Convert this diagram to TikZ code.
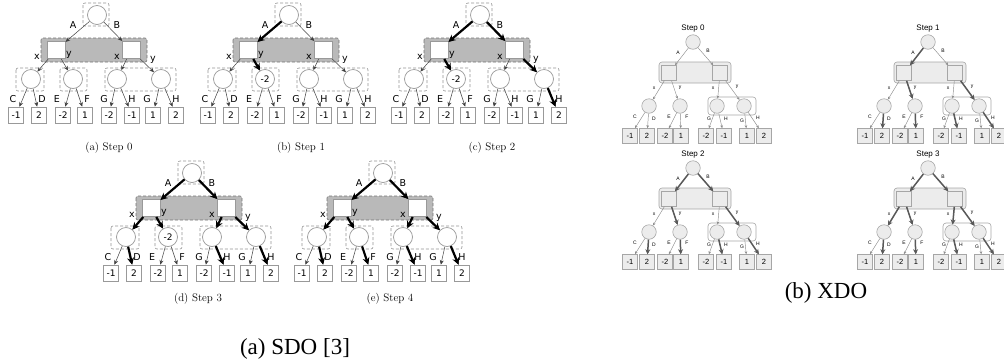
\documentclass[tikz,border=0pt]{standalone}
\usepackage{fontspec}
\usepackage{tikz}
\usetikzlibrary{arrows.meta}
\newfontfamily\dejavu{DejaVu Sans}
\newfontfamily\arialfont{Liberation Sans}
\newfontfamily\timesfont{Liberation Serif}

\tikzstyle{sdolab}=[inner sep=0pt,font=\dejavu\fontsize{9.5}{10}\selectfont]
\tikzstyle{sdobox}=[draw=gray!85,dashed,dash pattern=on 3pt off 2pt,rounded corners=2pt,line width=0.6pt]
\tikzstyle{sdoinfo}=[sdobox,fill=gray!55,draw=gray!90!black]
\tikzstyle{sdochance}=[draw=gray!80,circle,minimum size=19pt,inner sep=0pt,fill=white,line width=0.7pt,font=\dejavu\fontsize{9}{10}\selectfont]
\tikzstyle{sdoset}=[draw=gray!80,fill=white,minimum width=18pt,minimum height=17pt,inner sep=0pt,line width=1pt]
\tikzstyle{sdoleaf}=[draw=gray!80,fill=white,minimum width=15pt,minimum height=16pt,inner sep=0pt,line width=0.8pt,font=\dejavu\fontsize{9}{10}\selectfont]
\tikzstyle{sdothin}=[line width=0.5pt,draw=black!75,-{Stealth[length=4.5pt,width=4pt]}]
\tikzstyle{sdothick}=[line width=2.2pt,black,-{Stealth[length=7pt,width=7pt]}]
\tikzstyle{caption}=[inner sep=0pt,font=\fontsize{11}{13}\selectfont]

\tikzstyle{xdolab}=[inner sep=0pt,font=\arialfont\fontsize{5}{6}\selectfont]
\tikzstyle{xdotitle}=[inner sep=0pt,font=\arialfont\fontsize{8}{9}\selectfont]
\tikzstyle{xdoinfo}=[draw=gray!70,fill=gray!15,rounded corners=3pt,line width=0.6pt]
\tikzstyle{xdogroup}=[draw=gray!70,rounded corners=3pt,line width=0.6pt]
\tikzstyle{xdochance}=[draw=gray!70,circle,fill=gray!15,minimum size=14.5pt,inner sep=0pt,line width=0.6pt]
\tikzstyle{xdoset}=[draw=gray!70,fill=gray!15,minimum size=15pt,inner sep=0pt,line width=0.6pt]
\tikzstyle{xdoleaf}=[draw=gray!70,fill=gray!15,minimum size=15pt,inner sep=0pt,line width=0.6pt,font=\arialfont\fontsize{7.5}{8}\selectfont]
\tikzstyle{xdothin}=[line width=0.45pt,draw=gray!90,-{Stealth[length=3pt,width=2.6pt]}]
\tikzstyle{xdothick}=[line width=1.5pt,gray!70!black,-{Stealth[length=5pt,width=5pt]}]
\tikzstyle{panel}=[inner sep=0pt,font=\timesfont\fontsize{23}{26}\selectfont]

% one SDO tree: prefix, root x, root y, value in 2nd chance node, thick edges
\newcommand{\sdotree}[5]{%
  \begin{scope}[shift={(#2,#3)}]
    \draw[sdobox] (-14,-12) rectangle (12,11);
    \draw[sdoinfo] (-56,23) rectangle (50,47);
    \draw[sdobox] (-81,53) rectangle (-53,76);
    \draw[sdobox] (-37,53) rectangle (-10,76);
    \draw[sdobox] (8,53) rectangle (79,76);
    \node[sdochance] (#1-r) at (0,0) {};
    \node[sdoset] (#1-ls) at (-41,35) {};
    \node[sdoset] (#1-rs) at (34,35) {};
    \foreach \place/\name/\val in {-66/c1/, -24/c2/#4, 20/c3/, 64/c4/}
      \node[sdochance] (#1-\name) at (\place,64) {\val};
    \foreach \place/\name/\val in {-81/l1/-1, -58/l2/2, -34/l3/-2, -12/l4/1,
        12/l5/-2, 35/l6/-1, 56/l7/1, 79/l8/2}
      \node[sdoleaf] (#1-\name) at (\place,100) {\val};
    \foreach \source/\dest/\lab/\lx/\ly in {r/ls/A/-24/10, r/rs/B/20/10,
        ls/c1/x/-60/42, ls/c2/y/-28/40, rs/c3/x/20/42, rs/c4/y/56/45,
        c1/l1/C/-84/84, c1/l2/D/-55/84, c2/l3/E/-40/84, c2/l4/F/-10/84,
        c3/l5/G/7/84, c3/l6/H/35/84, c4/l7/G/50/84, c4/l8/H/79/84}
    {
      \draw[sdothin] (#1-\source) -- (#1-\dest);
      \node[sdolab] (#1-\dest-lab) at (\lx,\ly) {\lab};
    }
    \if\relax\detokenize{#5}\relax\else
    \foreach \source/\dest in {#5}
      \draw[sdothick] (#1-\source) -- (#1-\dest);
    \fi
  \end{scope}}

% one XDO tree: prefix, root x, root y, title, thick edges
\newcommand{\xdotree}[5]{%
  \begin{scope}[shift={(#2,#3)}]
    \node[xdotitle] (#1-title) at (0,-13) {#4};
    \draw[xdoinfo] (-34,20) rectangle (38,41);
    \draw[xdogroup] (15,55) rectangle (63,73);
    \node[xdochance] (#1-r) at (0,0) {};
    \node[xdoset] (#1-ls) at (-24,31) {};
    \node[xdoset] (#1-rs) at (27,31) {};
    \foreach \place/\name in {-44/c1, -13/c2, 24/c3, 51/c4}
      \node[xdochance] (#1-\name) at (\place,64) {};
    \foreach \place/\name/\val in {-63/l1/-1, -46/l2/2, -28/l3/-2, -12/l4/1,
        13/l5/-2, 31/l6/-1, 54/l7/1, 71/l8/2}
      \node[xdoleaf] (#1-\name) at (\place,94) {\val};
    \foreach \source/\dest/\lab/\lx/\ly in {r/ls/A/-15/11, r/rs/B/15/9,
        ls/c1/x/-39/46, ls/c2/y/-13/46, rs/c3/x/20/46, rs/c4/y/44/45,
        c1/l1/C/-58/75, c1/l2/D/-39/77, c2/l3/E/-24/75, c2/l4/F/-6/75,
        c3/l5/G/16/77, c3/l6/H/33/77, c4/l7/G/49/79, c4/l8/H/65/76}
    {
      \draw[xdothin] (#1-\source) -- (#1-\dest);
      \node[xdolab] (#1-\dest-lab) at (\lx,\ly) {\lab};
    }
    \if\relax\detokenize{#5}\relax\else
    \foreach \source/\dest in {#5}
      \draw[xdothick] (#1-\source) -- (#1-\dest);
    \fi
  \end{scope}}

\begin{document}
\begin{tikzpicture}[x=1pt,y=-1pt]
  \useasboundingbox (0,0) rectangle (1004,360);

  % SDO steps
  \sdotree{a}{97}{15}{}{}
  \sdotree{b}{289}{15}{-2}{r/ls, ls/c2}
  \sdotree{c}{480}{15}{-2}{r/ls, r/rs, ls/c2, rs/c4, c4/l8}
  \sdotree{d}{192}{173}{-2}{r/ls, r/rs, ls/c1, ls/c2, rs/c3, rs/c4, c1/l2, c3/l6, c4/l8}
  \sdotree{e}{383}{173}{}{r/ls, r/rs, ls/c1, ls/c2, rs/c3, rs/c4, c1/l2, c2/l4, c3/l6, c4/l8}

  \foreach \place/\name/\txt in {{(109,148)/capa/(a) Step 0}, {(301,148)/capb/(b) Step 1},
      {(492,148)/capc/(c) Step 2}, {(198,299)/capd/(d) Step 3}, {(390,299)/cape/(e) Step 4}}
    \node[caption] (\name) at \place {\txt};

  % XDO steps
  \xdotree{s0}{693}{42}{Step 0}{}
  \xdotree{s1}{928}{42}{Step 1}{r/ls, ls/c2, rs/c4, c1/l2, c2/l4, c3/l6, c4/l8}
  \xdotree{s2}{693}{168}{Step 2}{r/ls, r/rs, ls/c2, rs/c4, c1/l2, c2/l4, c3/l6, c4/l8}
  \xdotree{s3}{928}{168}{Step 3}{r/ls, r/rs, ls/c1, ls/c2, rs/c3, rs/c4, c1/l2, c2/l4, c3/l6, c4/l8}

  \node[panel,anchor=base] (sdo) at (295,354) {(a) SDO [3]};
  \node[panel,anchor=base] (xdo) at (826,298) {(b) XDO};
\end{tikzpicture}
\end{document}
